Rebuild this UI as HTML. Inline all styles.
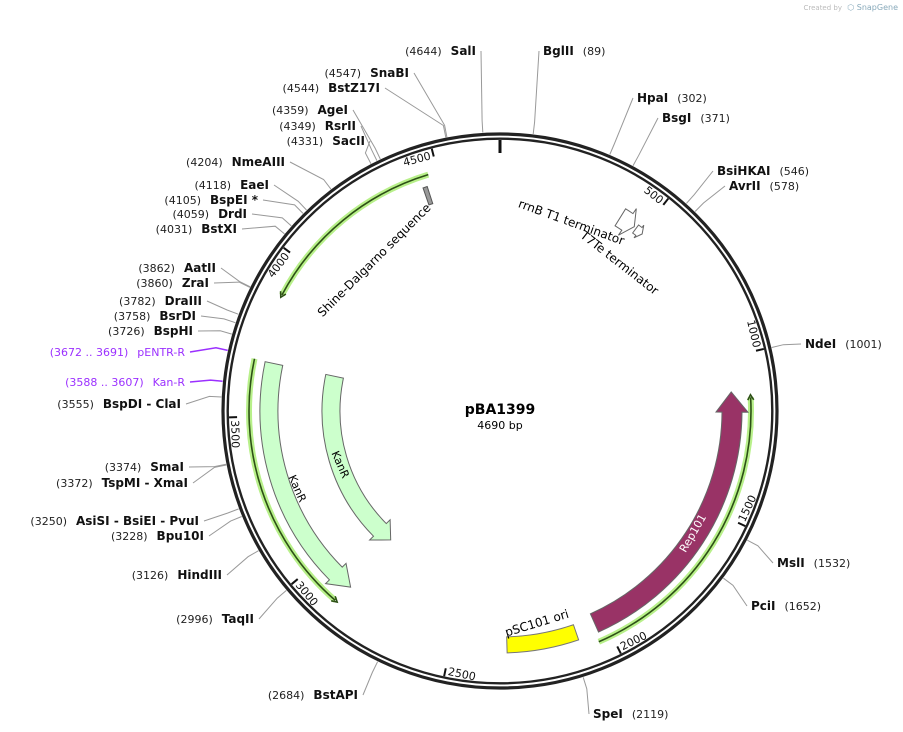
<!DOCTYPE html>
<html><head><meta charset="utf-8">
<style>
html,body{margin:0;padding:0;background:#fff;}
svg{display:block;font-family:"DejaVu Sans","Liberation Sans",sans-serif;}
.num{font-size:11px;fill:#222;}
.nm{font-size:12px;font-weight:bold;fill:#111;}
.pur{fill:#9b30ff;}
</style></head>
<body>
<svg id="map" width="903" height="732" viewBox="0 0 903 732">
<text x="842" y="10" font-size="7" fill="#bbb" text-anchor="end">Created by</text>
<text x="898" y="10" font-size="8" fill="#8ab" text-anchor="end">⬡ SnapGene</text>
<g id="features"></g>
<g id="ring"></g>
<g id="enz"></g>
<text x="500" y="414" text-anchor="middle" font-size="14" font-weight="bold">pBA1399</text>
<text x="500" y="429" text-anchor="middle" font-size="11">4690 bp</text>
<text transform="translate(377,263) rotate(-45)" text-anchor="middle" font-size="12">Shine-Dalgarno sequence</text>
<text transform="translate(570,226) rotate(20)" text-anchor="middle" font-size="12">rrnB T1 terminator</text>
<text transform="translate(617,266) rotate(38)" text-anchor="middle" font-size="12">T7Te terminator</text>
<text transform="translate(294,490) rotate(66)" text-anchor="middle" font-size="11">KanR</text>
<text transform="translate(337,466) rotate(66)" text-anchor="middle" font-size="11">KanR</text>
<text transform="translate(696,535) rotate(-60)" text-anchor="middle" font-size="11" fill="#fff">Rep101</text>
<text transform="translate(538,627) rotate(-17)" text-anchor="middle" font-size="12">pSC101 ori</text>
</svg>
<script>
const TOTAL = 4690;
const CX = 500, CY = 411;
// enzyme data
const enzNames = ["SalI","BglII","SnaBI","BstZ17I","HpaI","BsgI","AgeI","RsrII","SacII","NmeAIII","BsiHKAI","AvrII","EaeI","BspEI *","DrdI","BstXI","AatII","ZraI","DraIII","BsrDI","BspHI","NdeI","pENTR-R","Kan-R","BspDI - ClaI","SmaI","TspMI - XmaI","AsiSI - BsiEI - PvuI","Bpu10I","MslI","HindIII","PciI","TaqII","BstAPI","SpeI"];
const enzPos = [4644,89,4547,4544,302,371,4359,4349,4331,4204,546,578,4118,4105,4059,4031,3862,3860,3782,3758,3726,1001,3681,3597,3555,3374,3372,3250,3228,1532,3126,1652,2996,2684,2119];
const enzPosText = ["4644","89","4547","4544","302","371","4359","4349","4331","4204","546","578","4118","4105","4059","4031","3862","3860","3782","3758","3726","1001","3672 .. 3691","3588 .. 3607","3555","3374","3372","3250","3228","1532","3126","1652","2996","2684","2119"];
// label layout (not data): side, x, y
const enzSide = ["L","R","L","L","R","R","L","L","L","L","R","R","L","L","L","L","L","L","L","L","L","R","L","L","L","L","L","L","L","R","L","R","L","L","R"];
const enzLX = [476,543,409,380,637,662,348,356,365,285,717,729,269,258,247,237,216,209,202,196,193,805,185,185,181,184,188,199,204,777,222,751,254,358,593];
const enzLY = [55,55,77,92,102,122,114,130,145,166,175,190,189,204,218,233,272,287,305,320,335,348,356,386,408,471,487,525,540,567,579,610,623,699,718];
// ticks
const tickVals = [500,1000,1500,2000,2500,3000,3500,4000,4500];
// features
const featNames = ["kanr-1","kanr-2","rep101","rrnb-t1","t7te"];
const featFrom = [2870,2870,1111,415,478];
const featTo = [3672,3672,2032,470,505];
const featRin = [222,160,222,218,222];
const featRout = [240,178,242,238,232];
const featDir = [-1,-1,-1,1,1];
const featFill = ["#ccffcc","#ccffcc","#993366","#ffffff","#ffffff"];
const primerNames = ["primer-top-left","primer-left","primer-right"];
const primerFrom = [3875,2872,1124];
const primerTo = [4470,3674,2043];
const primerR = [247,251,251];
const oriFrom = 2098, oriTo = 2323;
const sdFrom = 4442, sdTo = 4456;

const NS="http://www.w3.org/2000/svg";
function ang(p){return p/TOTAL*360;}
function pt(r,a){const t=a*Math.PI/180;return [CX+r*Math.sin(t),CY-r*Math.cos(t)];}
function mk(tag,attrs,parent){const e=document.createElementNS(NS,tag);for(const k in attrs)e.setAttribute(k,attrs[k]);parent.appendChild(e);return e;}
const fg=document.getElementById('features'), rg=document.getElementById('ring'), eg=document.getElementById('enz');

function arcPt(r,a){const p=pt(r,a);return p[0].toFixed(2)+","+p[1].toFixed(2);}
function arrowPath(a0,a1,ri,ro,headDeg,flare){
  const ah=a0+headDeg, rm=(ri+ro)/2, big=(a1-ah)>180?1:0;
  return "M"+arcPt(ro,a1)+" A"+ro+","+ro+" 0 "+big+" 0 "+arcPt(ro,ah)+
    " L"+arcPt(ro+flare,ah)+" L"+arcPt(rm,a0)+" L"+arcPt(ri-flare,ah)+" L"+arcPt(ri,ah)+
    " A"+ri+","+ri+" 0 "+big+" 1 "+arcPt(ri,a1)+" Z";
}
function arrowPathCW(a0,a1,ri,ro,headDeg,flare){
  const ah=a1-headDeg, rm=(ri+ro)/2, big=(ah-a0)>180?1:0;
  return "M"+arcPt(ro,a0)+" A"+ro+","+ro+" 0 "+big+" 1 "+arcPt(ro,ah)+
    " L"+arcPt(ro+flare,ah)+" L"+arcPt(rm,a1)+" L"+arcPt(ri-flare,ah)+" L"+arcPt(ri,ah)+
    " A"+ri+","+ri+" 0 "+big+" 0 "+arcPt(ri,a0)+" Z";
}
function bandPath(a0,a1,ri,ro){
  const big=(a1-a0)>180?1:0;
  return "M"+arcPt(ro,a0)+" A"+ro+","+ro+" 0 "+big+" 1 "+arcPt(ro,a1)+" L"+arcPt(ri,a1)+" A"+ri+","+ri+" 0 "+big+" 0 "+arcPt(ri,a0)+" Z";
}

// primers
for(let i=0;i<primerFrom.length;i++){
  const a0=ang(primerFrom[i]), a1=ang(primerTo[i]), r=primerR[i];
  const d="M"+arcPt(r,a1)+" A"+r+","+r+" 0 0 0 "+arcPt(r,a0+0.6);
  const g=mk('path',{d:d,fill:'none',stroke:'#b8f08a','stroke-width':6},fg);
  
  
  const l=mk('path',{d:d,fill:'none',stroke:'#2d5016','stroke-width':1.6},fg);
  
  
  const h=mk('path',{d:"M"+arcPt(r-3,a0+1.2)+" L"+arcPt(r,a0)+" L"+arcPt(r+3,a0+1.2),fill:'none',stroke:'#2d5016','stroke-width':1.6},fg);
  
  
}
// features
for(let i=0;i<featFrom.length;i++){
  const a0=ang(featFrom[i]), a1=ang(featTo[i]);
  const span=a1-a0, hd=Math.min(5,span*0.5);
  const flare=(featRout[i]-featRin[i])*0.3;
  const d=featDir[i]<0?arrowPath(a0,a1,featRin[i],featRout[i],hd,flare):arrowPathCW(a0,a1,featRin[i],featRout[i],hd,flare);
  const p=mk('path',{d:d,fill:featFill[i],stroke:'#666','stroke-width':1},fg);
  
  
}
const ori=mk('path',{d:bandPath(ang(oriFrom),ang(oriTo),226,242),fill:'#ffff00',stroke:'#777','stroke-width':1},fg);


const sd=mk('path',{d:bandPath(ang(sdFrom),ang(sdTo),218,236),fill:'#999',stroke:'#555','stroke-width':1},fg);



// ring
const c1=mk('circle',{cx:CX,cy:CY,r:277,fill:'none',stroke:'#222','stroke-width':3.2},rg);


const c2=mk('circle',{cx:CX,cy:CY,r:272.3,fill:'none',stroke:'#222','stroke-width':2.4},rg);


const t0a=pt(271,0), t0b=pt(258,0);
const t0=mk('line',{x1:t0a[0],y1:t0a[1],x2:t0b[0],y2:t0b[1],stroke:'#111','stroke-width':3},rg);


for(const v of tickVals){
  const a=ang(v), p1=pt(271,a), p2=pt(263,a);
  const t=mk('line',{x1:p1[0],y1:p1[1],x2:p2[0],y2:p2[1],stroke:'#111','stroke-width':2},rg);
  
  
  let sa=a>180?a-360:a;
  const flipped=Math.abs(sa)>90;
  const rot=flipped?sa-180:sa;
  const rr=flipped?269:261;
  const pp=pt(rr,a);
  const tx=mk('text',{transform:"translate("+pp[0].toFixed(1)+","+pp[1].toFixed(1)+") rotate("+rot.toFixed(1)+")",
    'text-anchor':flipped?'start':'end',x:flipped?3:-3,'font-size':11,fill:'#111'},rg);
  tx.textContent=String(v);
  
  
}
// enzymes
for(let i=0;i<enzNames.length;i++){
  const a=ang(enzPos[i]);
  const ring=pt(279,a), knee=pt(291,a);
  const L=enzSide[i]==="L";
  const isPrimer=enzNames[i]==="pENTR-R"||enzNames[i]==="Kan-R";
  const sx=L?enzLX[i]+5:enzLX[i]-4, sy=enzLY[i]-4;
  const ln=mk('polyline',{points:sx+","+sy+" "+knee[0].toFixed(1)+","+knee[1].toFixed(1)+" "+ring[0].toFixed(1)+","+ring[1].toFixed(1),
    fill:'none',stroke:isPrimer?'#9b30ff':'#999','stroke-width':isPrimer?1.5:1},eg);
  
  
  const t=mk('text',{x:enzLX[i],y:enzLY[i],'text-anchor':L?'end':'start'},eg);
  
  
  const n=mk('tspan',{'class':'num'+(isPrimer?' pur':'')},t);
  const m=mk('tspan',{'class':isPrimer?'num pur':'nm',dx:9},t);
  if(L){n.textContent="("+enzPosText[i]+")";m.textContent=enzNames[i];}
  else{m.setAttribute('dx',0);
    t.removeChild(n);t.appendChild(n);n.setAttribute('dx',9);
    m.textContent=enzNames[i];n.textContent="("+enzPosText[i]+")";}
}
</script>
</body></html>
